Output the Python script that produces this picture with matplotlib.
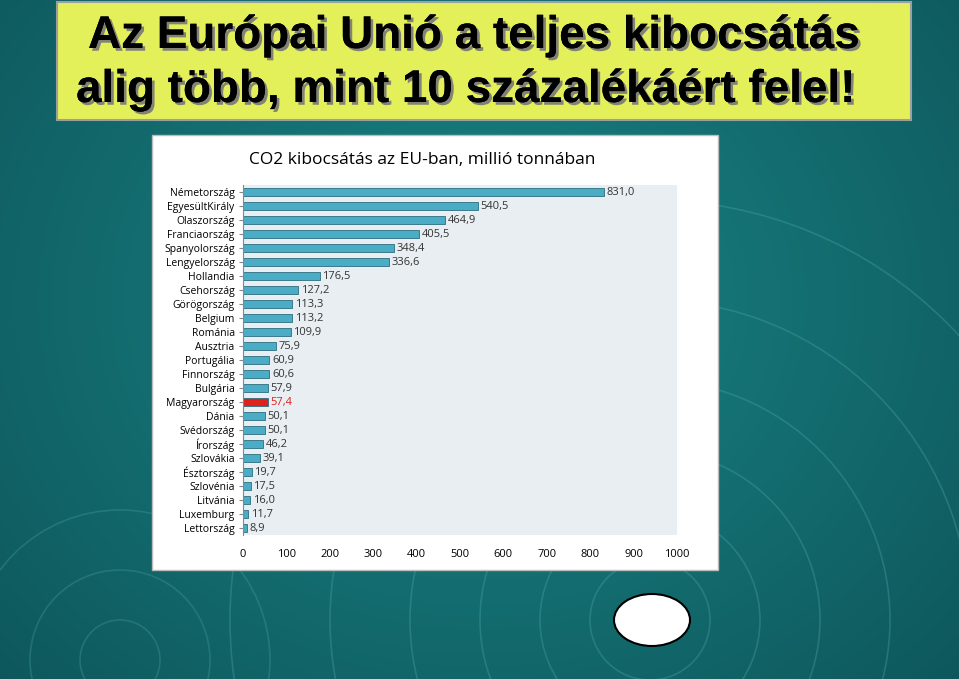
import matplotlib
matplotlib.use("Agg")
import matplotlib.pyplot as plt
import matplotlib.patheffects as pe
import numpy as np
from matplotlib.patches import Rectangle, Circle, Ellipse

countries = ["Németország","EgyesültKirály","Olaszország","Franciaország","Spanyolország",
             "Lengyelország","Hollandia","Csehország","Görögország","Belgium","Románia",
             "Ausztria","Portugália","Finnország","Bulgária","Magyarország","Dánia",
             "Svédország","Írország","Szlovákia","Észtország","Szlovénia","Litvánia",
             "Luxemburg","Lettország"]
values = [831.0,540.5,464.9,405.5,348.4,336.6,176.5,127.2,113.3,113.2,109.9,75.9,60.9,
          60.6,57.9,57.4,50.1,50.1,46.2,39.1,19.7,17.5,16.0,11.7,8.9]
highlight = "Magyarország"
xticks = [0,100,200,300,400,500,600,700,800,900,1000]

fig = plt.figure(figsize=(9.59,6.79), dpi=100)

bg = fig.add_axes([0,0,1,1]); bg.set_axis_off()
yy, xx = np.mgrid[0:679, 0:959]
r = np.sqrt(((xx-480)/700)**2 + ((yy-300)/600)**2)
grad = np.clip(1 - r, 0, 1)
c0 = np.array([0.05,0.33,0.35]); c1 = np.array([0.10,0.52,0.52])
img = c0 + (c1-c0)*grad[...,None]
bg.imshow(img, extent=[0,959,679,0], aspect='auto')
bg.set_xlim(0,959); bg.set_ylim(679,0)
for rad in [60,110,170,240,320,420]:
    bg.add_patch(Circle((650,620), rad, fill=False, ec=(0.3,0.65,0.65), lw=1.2, alpha=0.35))
for rad in [40,90,150]:
    bg.add_patch(Circle((120,660), rad, fill=False, ec=(0.3,0.65,0.65), lw=1.2, alpha=0.3))
bg.add_patch(Rectangle((57,2),854,118, fc="#e4f05a", ec="#9aa0a0", lw=1.5))
shadow = [pe.withSimplePatchShadow(offset=(2,-2), shadow_rgbFace="#777777", alpha=0.9), pe.Normal()]
bg.text(88,36,"Az Európai Unió a teljes kibocsátás", ha="left", va="center",
        fontsize=33, fontweight="bold", family="Liberation Sans", color="black", path_effects=shadow)
bg.text(76,90,"alig több, mint 10 százalékáért felel!", ha="left", va="center",
        fontsize=33, fontweight="bold", family="Liberation Sans", color="black", path_effects=shadow)
bg.add_patch(Rectangle((152,135),566,435, fc="white", ec="#bbbbbb", lw=1))
bg.text(422,160,"CO2 kibocsátás az EU-ban, millió tonnában", ha="center", va="center",
        fontsize=12.5, family="Open Sans", color="black")
bg.add_patch(Ellipse((652,620),76,52, fc="white", ec="black", lw=1.5))

ax = fig.add_axes([243/959, 1-535/679, 434/959, 350/679])
ax.set_facecolor("#e8eef2")
y = np.arange(len(countries))
colors = ["#e0201b" if c == highlight else "#4bacc6" for c in countries]
ax.barh(y, values, height=0.55, color=colors, edgecolor="#2c6e7e", linewidth=0.6)
for yi, v, c in zip(y, values, countries):
    ax.text(v+6, yi, f"{v:.1f}".replace(".", ","), va="center", ha="left", fontsize=8,
            family="Open Sans", color="#e0201b" if c == highlight else "#333333")
ax.set_ylim(len(countries)-0.5, -0.5)
ax.set_xlim(0,1000)
ax.set_yticks(y); ax.set_yticklabels(countries, fontsize=7.5, family="Open Sans")
ax.set_xticks(xticks); ax.set_xticklabels([str(t) for t in xticks], fontsize=8, family="Open Sans")
for s in ["top","right","bottom"]:
    ax.spines[s].set_visible(False)
ax.spines["left"].set_color("#888888")
ax.tick_params(axis="x", length=0, pad=10)
ax.tick_params(axis="y", length=3, color="#888888", pad=3)
fig.savefig("out.png", dpi=100)
